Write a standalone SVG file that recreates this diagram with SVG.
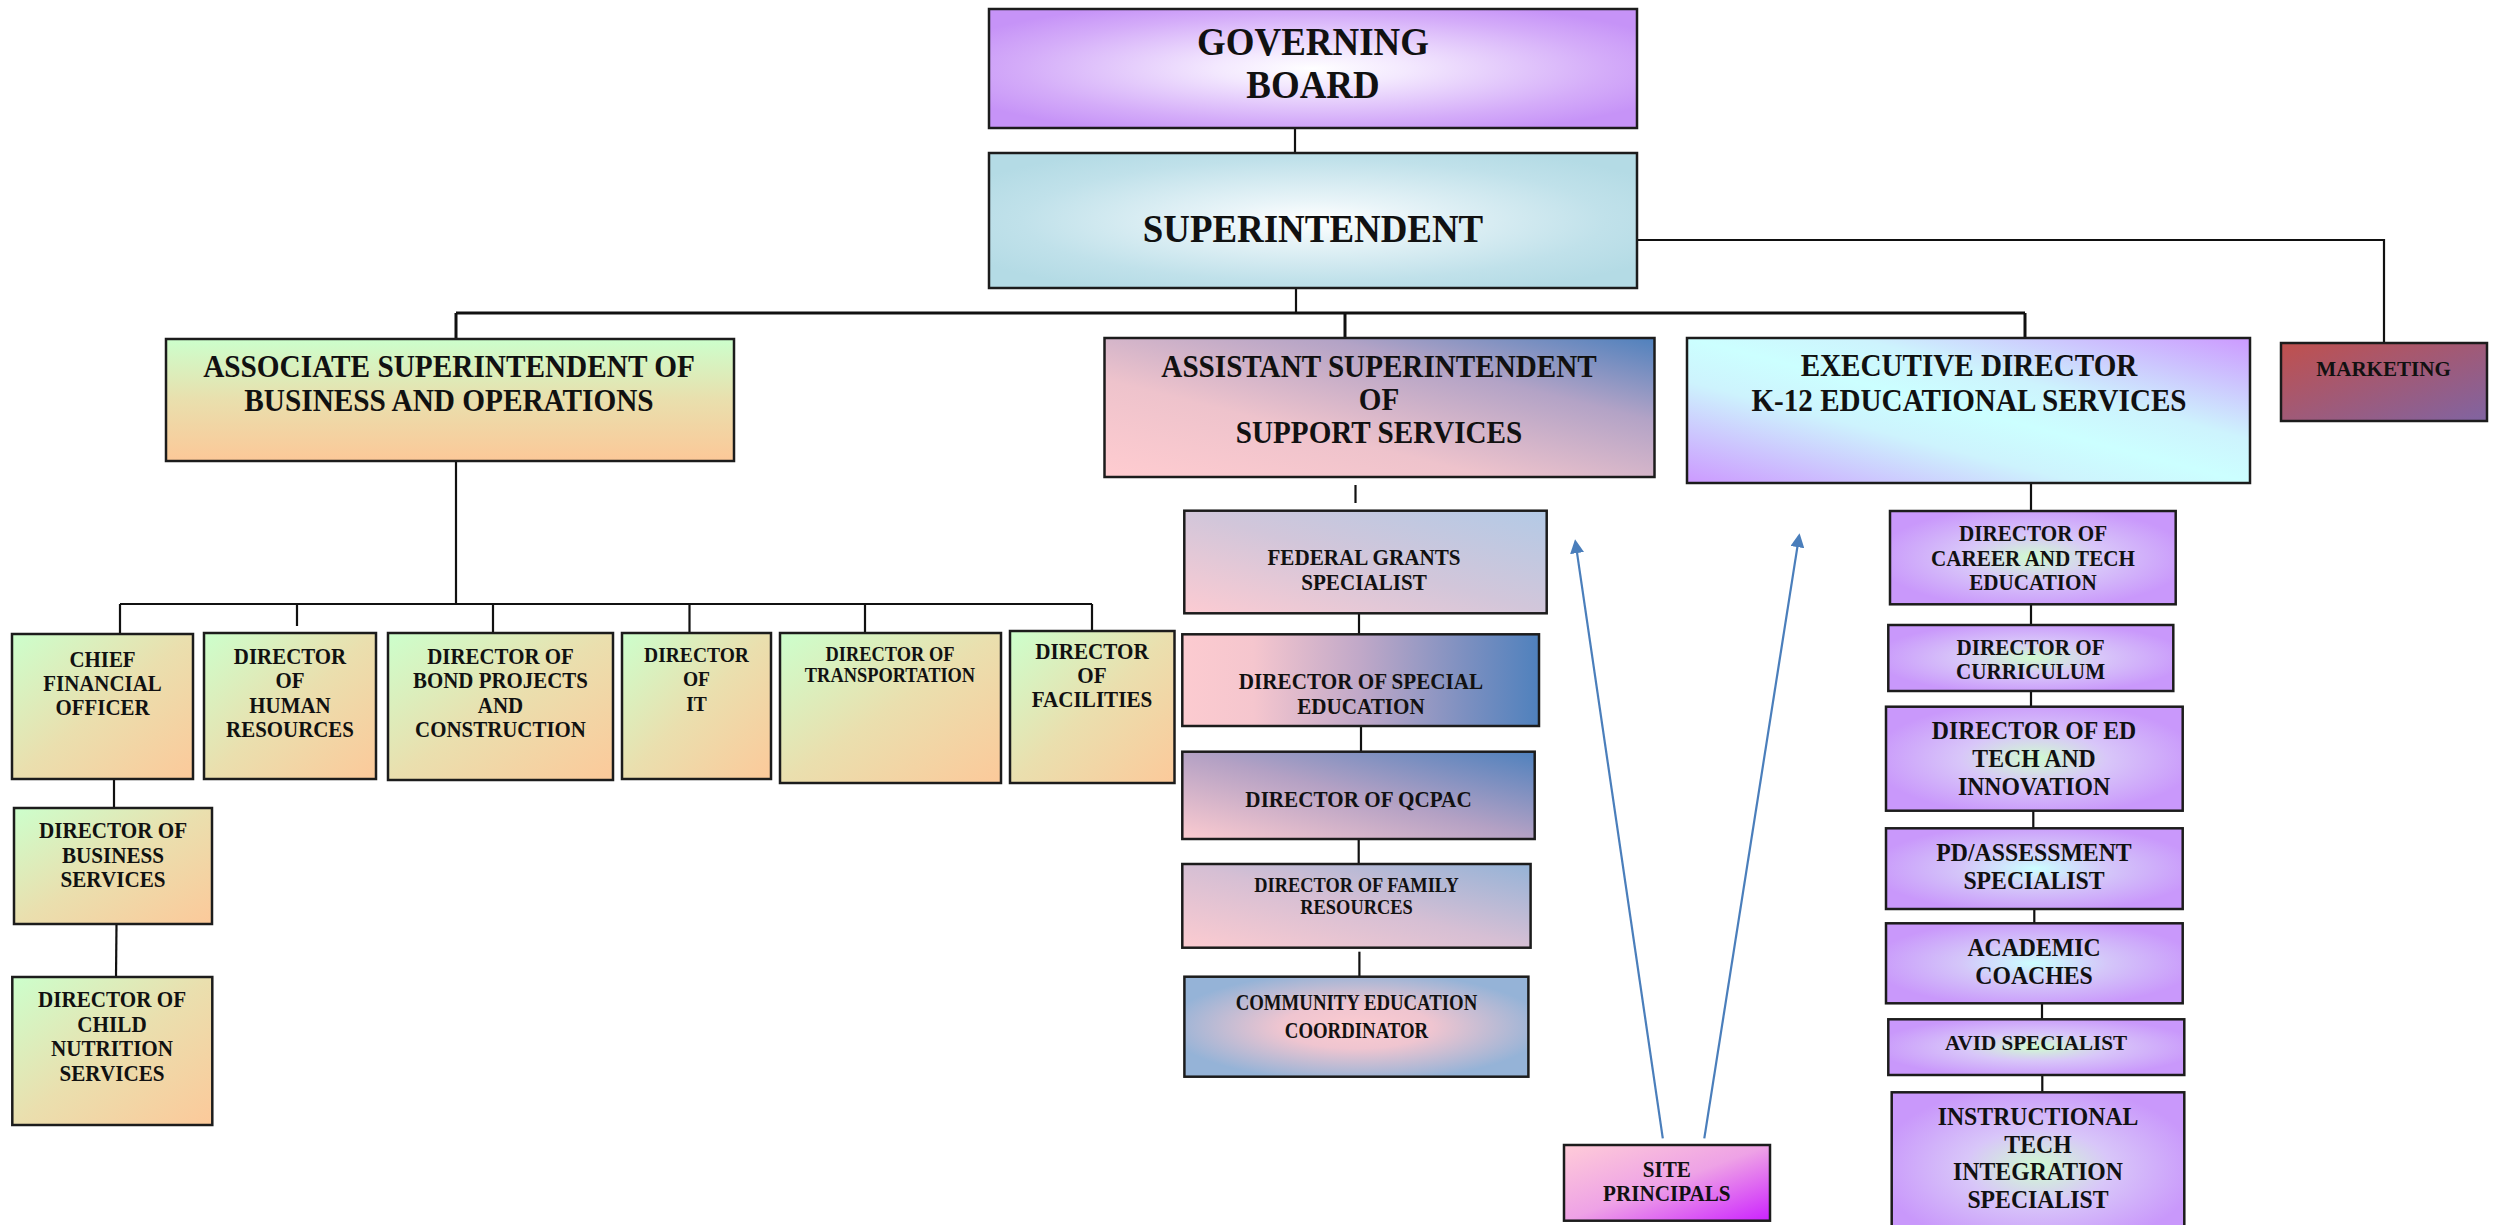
<svg xmlns="http://www.w3.org/2000/svg" width="2502" height="1225" viewBox="0 0 2502 1225">
<style>
.box{stroke:#1c1c1c;stroke-width:2.5}
.t{font-family:"Liberation Serif","Times New Roman",serif;font-weight:bold;text-anchor:middle;fill:#111}
.ln{stroke:#111;stroke-width:2.2;fill:none}
.bus{stroke:#111;stroke-width:3;fill:none}
.arr{stroke:#4a7ebb;stroke-width:2.2;fill:none;marker-end:url(#ah)}
</style>
<defs>
<marker id="ah" viewBox="0 0 14 14" refX="6" refY="7" markerWidth="14" markerHeight="14" markerUnits="userSpaceOnUse" orient="auto"><path d="M0,0 L14,7 L0,14 z" fill="#4a7ebb"/></marker>
<radialGradient id="gGov" cx="0.5" cy="0.5" r="0.6"><stop offset="0" stop-color="#ffffff"/><stop offset="0.25" stop-color="#f3e8fe"/><stop offset="0.75" stop-color="#d4acf9"/><stop offset="1" stop-color="#c693f7"/></radialGradient>
<radialGradient id="gSup" cx="0.5" cy="0.5" r="0.6"><stop offset="0" stop-color="#ffffff"/><stop offset="0.25" stop-color="#e8f4f8"/><stop offset="0.75" stop-color="#c0e1ea"/><stop offset="1" stop-color="#b4dbe5"/></radialGradient>
<linearGradient id="gGreenV" x1="0" y1="0" x2="0" y2="1"><stop offset="0" stop-color="#ccffcc"/><stop offset="0.5" stop-color="#e9dfad"/><stop offset="1" stop-color="#fcc898"/></linearGradient>
<linearGradient id="gGreenD" x1="0" y1="0" x2="1" y2="1"><stop offset="0" stop-color="#ccffcc"/><stop offset="0.5" stop-color="#eadfae"/><stop offset="1" stop-color="#fcc99a"/></linearGradient>
<linearGradient id="gAsst" x1="0" y1="1" x2="1" y2="0"><stop offset="0" stop-color="#ffccd0"/><stop offset="0.35" stop-color="#eec3cc"/><stop offset="0.7" stop-color="#b3a3c6"/><stop offset="1" stop-color="#4f81bd"/></linearGradient>
<linearGradient id="gFed" x1="0" y1="1" x2="1" y2="0"><stop offset="0" stop-color="#fccbd2"/><stop offset="0.5" stop-color="#d2c6da"/><stop offset="1" stop-color="#b3cae6"/></linearGradient>
<linearGradient id="gSpec" x1="0" y1="0" x2="1" y2="0"><stop offset="0" stop-color="#fccbd0"/><stop offset="0.2" stop-color="#f5c6ce"/><stop offset="0.5" stop-color="#c0a8c8"/><stop offset="0.8" stop-color="#7b8fc0"/><stop offset="1" stop-color="#4f81bd"/></linearGradient>
<linearGradient id="gQ" x1="0" y1="1" x2="1" y2="0"><stop offset="0" stop-color="#fccbd0"/><stop offset="0.5" stop-color="#b4a1c4"/><stop offset="1" stop-color="#4f81bd"/></linearGradient>
<linearGradient id="gFam" x1="0" y1="1" x2="1" y2="0"><stop offset="0" stop-color="#fccbd0"/><stop offset="0.5" stop-color="#d6bfd4"/><stop offset="1" stop-color="#95b3d7"/></linearGradient>
<radialGradient id="gCom" cx="0.5" cy="0.5" r="0.55"><stop offset="0" stop-color="#fccbd0"/><stop offset="0.4" stop-color="#efc5d0"/><stop offset="1" stop-color="#95b3d7"/></radialGradient>
<linearGradient id="gExec" x1="0" y1="1" x2="1" y2="0"><stop offset="0" stop-color="#cc99ff"/><stop offset="0.35" stop-color="#cdf3fd"/><stop offset="0.5" stop-color="#ccffff"/><stop offset="0.65" stop-color="#cdf3fd"/><stop offset="1" stop-color="#cc99ff"/></linearGradient>
<linearGradient id="gMkt" x1="0" y1="0" x2="1" y2="1"><stop offset="0" stop-color="#c0504d"/><stop offset="1" stop-color="#8064a2"/></linearGradient>
<linearGradient id="gSite" x1="0" y1="0" x2="1" y2="1"><stop offset="0" stop-color="#ffccd8"/><stop offset="0.5" stop-color="#eea2e6"/><stop offset="1" stop-color="#cc22ff"/></linearGradient>
<radialGradient id="gK" cx="0.5" cy="0.5" r="0.55"><stop offset="0" stop-color="#d0fcd0"/><stop offset="0.45" stop-color="#d8c6f9"/><stop offset="1" stop-color="#c998fb"/></radialGradient>
<radialGradient id="gKc" cx="0.5" cy="0.5" r="0.55"><stop offset="0" stop-color="#ccffff"/><stop offset="0.45" stop-color="#d4c6f9"/><stop offset="1" stop-color="#c998fb"/></radialGradient>
</defs>
<rect width="2502" height="1225" fill="#ffffff"/>

<g id="connectors">
<path class="ln" d="M1295,128 V153"/>
<path class="ln" d="M1296,288 V313"/>
<path class="bus" d="M456,313 H2025"/>
<path class="bus" d="M456,313 V339 M1345,313 V338 M2025,313 V338"/>
<path class="ln" d="M1637,240 H2384 V343"/>
<path class="ln" d="M456,461 V604"/>
<path class="ln" d="M120,604 H1092"/>
<path class="ln" d="M120,604 V634 M297,604 V626 M493,604 V633 M689.5,604 V633 M865,604 V633 M1092,604 V631"/>
<path class="ln" d="M114,779 V808"/>
<path class="ln" d="M116.5,924 L116,977"/>
<path class="ln" d="M1355.5,485 V503"/>
<path class="ln" d="M1359,614 V635"/>
<path class="ln" d="M1361,726 V752"/>
<path class="ln" d="M1358.7,839 V864"/>
<path class="ln" d="M1359.4,951.7 V977"/>
<path class="ln" d="M2031,483 V511 M2031,604 V625 M2031,691 V707"/>
<path class="ln" d="M2033.3,811 V828 M2034.3,909 V923 M2042,1003 V1019 M2042.3,1075 V1092"/>
<path class="arr" d="M1662.8,1138.3 L1576.2,547.2"/>
<path class="arr" d="M1704.3,1138.3 L1798.3,541.2"/>
</g>

<g id="governing-board">
<rect class="box" x="989" y="9" width="648" height="119" fill="url(#gGov)"/>
<text class="t" font-size="40" transform="matrix(0.923 0 0 1 1313 0)"><tspan x="0" y="55">GOVERNING</tspan><tspan x="0" y="98">BOARD</tspan></text>
</g>
<g id="superintendent">
<rect class="box" x="989" y="153" width="648" height="135" fill="url(#gSup)"/>
<text class="t" font-size="40" transform="matrix(0.923 0 0 1 1313 0)"><tspan x="0" y="242.5">SUPERINTENDENT</tspan></text>
</g>
<g id="assoc-supt">
<rect class="box" x="166" y="339" width="568" height="122" fill="url(#gGreenV)"/>
<text class="t" font-size="32" transform="matrix(0.915 0 0 1 449 0)"><tspan x="0" y="377">ASSOCIATE SUPERINTENDENT OF</tspan><tspan x="0" y="411">BUSINESS AND OPERATIONS</tspan></text>
</g>
<g id="assistant-supt">
<rect class="box" x="1104.5" y="338" width="550" height="139" fill="url(#gAsst)"/>
<text class="t" font-size="31" transform="matrix(0.94 0 0 1 1379 0)"><tspan x="0" y="376.7">ASSISTANT SUPERINTENDENT</tspan><tspan x="0" y="410">OF</tspan><tspan x="0" y="442.7">SUPPORT SERVICES</tspan></text>
</g>
<g id="exec-director">
<rect class="box" x="1687" y="338" width="563" height="145" fill="url(#gExec)"/>
<text class="t" font-size="32" transform="matrix(0.91 0 0 1 1969 0)"><tspan x="0" y="376">EXECUTIVE DIRECTOR</tspan><tspan x="0" y="411">K-12 EDUCATIONAL SERVICES</tspan></text>
</g>
<g id="marketing">
<rect class="box" x="2281" y="343" width="206" height="78" fill="url(#gMkt)"/>
<text class="t" font-size="21.5" transform="matrix(0.98 0 0 1 2383.6 0)"><tspan x="0" y="376">MARKETING</tspan></text>
</g>

<g id="cfo">
<rect class="box" x="12" y="634" width="181" height="145" fill="url(#gGreenD)"/>
<text class="t" font-size="22.5" transform="matrix(0.93 0 0 1 102.5 0)"><tspan x="0" y="666.7">CHIEF</tspan><tspan x="0" y="690.7">FINANCIAL</tspan><tspan x="0" y="715">OFFICER</tspan></text>
</g>
<g id="dir-hr">
<rect class="box" x="204" y="633" width="172" height="146" fill="url(#gGreenD)"/>
<text class="t" font-size="22.5" transform="matrix(0.93 0 0 1 290 0)"><tspan x="0" y="664">DIRECTOR</tspan><tspan x="0" y="688">OF</tspan><tspan x="0" y="712.7">HUMAN</tspan><tspan x="0" y="737.3">RESOURCES</tspan></text>
</g>
<g id="dir-bond">
<rect class="box" x="388" y="633" width="225" height="147" fill="url(#gGreenD)"/>
<text class="t" font-size="22.5" transform="matrix(0.93 0 0 1 500.5 0)"><tspan x="0" y="664">DIRECTOR OF</tspan><tspan x="0" y="688">BOND PROJECTS</tspan><tspan x="0" y="712.7">AND</tspan><tspan x="0" y="737.3">CONSTRUCTION</tspan></text>
</g>
<g id="dir-it">
<rect class="box" x="622" y="633" width="149" height="146" fill="url(#gGreenD)"/>
<text class="t" font-size="21" transform="matrix(0.93 0 0 1 696.5 0)"><tspan x="0" y="661.7">DIRECTOR</tspan><tspan x="0" y="686">OF</tspan><tspan x="0" y="710.7">IT</tspan></text>
</g>
<g id="dir-transport">
<rect class="box" x="780" y="633" width="221" height="150" fill="url(#gGreenD)"/>
<text class="t" font-size="20" transform="matrix(0.92 0 0 1 890 0)"><tspan x="0" y="660.7">DIRECTOR OF</tspan><tspan x="0" y="682.3">TRANSPORTATION</tspan></text>
</g>
<g id="dir-facilities">
<rect class="box" x="1010" y="631" width="164.5" height="152" fill="url(#gGreenD)"/>
<text class="t" font-size="23" transform="matrix(0.92 0 0 1 1092 0)"><tspan x="0" y="659.3">DIRECTOR</tspan><tspan x="0" y="683.3">OF</tspan><tspan x="0" y="706.7">FACILITIES</tspan></text>
</g>
<g id="dir-business">
<rect class="box" x="14" y="808" width="198" height="116" fill="url(#gGreenD)"/>
<text class="t" font-size="23" transform="matrix(0.92 0 0 1 113 0)"><tspan x="0" y="838.3">DIRECTOR OF</tspan><tspan x="0" y="863.3">BUSINESS</tspan><tspan x="0" y="887.3">SERVICES</tspan></text>
</g>
<g id="dir-child-nutrition">
<rect class="box" x="12.3" y="977" width="200" height="148" fill="url(#gGreenD)"/>
<text class="t" font-size="23" transform="matrix(0.92 0 0 1 112 0)"><tspan x="0" y="1006.7">DIRECTOR OF</tspan><tspan x="0" y="1031.7">CHILD</tspan><tspan x="0" y="1056">NUTRITION</tspan><tspan x="0" y="1081">SERVICES</tspan></text>
</g>

<g id="federal-grants">
<rect class="box" x="1184.3" y="510.7" width="362.4" height="102.6" fill="url(#gFed)"/>
<text class="t" font-size="23" transform="matrix(0.92 0 0 1 1364 0)"><tspan x="0" y="565">FEDERAL GRANTS</tspan><tspan x="0" y="590">SPECIALIST</tspan></text>
</g>
<g id="dir-special-ed">
<rect class="box" x="1182.3" y="634.3" width="356.7" height="91.7" fill="url(#gSpec)"/>
<text class="t" font-size="23" transform="matrix(0.92 0 0 1 1361 0)"><tspan x="0" y="689">DIRECTOR OF SPECIAL</tspan><tspan x="0" y="714">EDUCATION</tspan></text>
</g>
<g id="dir-qcpac">
<rect class="box" x="1182.3" y="751.7" width="352.4" height="87.3" fill="url(#gQ)"/>
<text class="t" font-size="23" transform="matrix(0.92 0 0 1 1358.5 0)"><tspan x="0" y="807.3">DIRECTOR OF QCPAC</tspan></text>
</g>
<g id="dir-family">
<rect class="box" x="1182.3" y="864" width="348.3" height="83.7" fill="url(#gFam)"/>
<text class="t" font-size="20" transform="matrix(0.92 0 0 1 1356.5 0)"><tspan x="0" y="892.3">DIRECTOR OF FAMILY</tspan><tspan x="0" y="914">RESOURCES</tspan></text>
</g>
<g id="community-ed">
<rect class="box" x="1184.4" y="976.7" width="344" height="100" fill="url(#gCom)"/>
<text class="t" font-size="23.5" transform="matrix(0.8 0 0 1 1356.5 0)"><tspan x="0" y="1010">COMMUNITY EDUCATION</tspan><tspan x="0" y="1038.3">COORDINATOR</tspan></text>
</g>
<g id="site-principals">
<rect class="box" x="1564" y="1145" width="206" height="75.7" fill="url(#gSite)"/>
<text class="t" font-size="23" transform="matrix(0.92 0 0 1 1666.8 0)"><tspan x="0" y="1176.7">SITE</tspan><tspan x="0" y="1201">PRINCIPALS</tspan></text>
</g>

<g id="dir-career-tech">
<rect class="box" x="1890" y="511" width="285.7" height="93.3" fill="url(#gK)"/>
<text class="t" font-size="23" transform="matrix(0.92 0 0 1 2033 0)"><tspan x="0" y="541">DIRECTOR OF</tspan><tspan x="0" y="566">CAREER AND TECH</tspan><tspan x="0" y="590">EDUCATION</tspan></text>
</g>
<g id="dir-curriculum">
<rect class="box" x="1888.3" y="625" width="285" height="66" fill="url(#gK)"/>
<text class="t" font-size="23" transform="matrix(0.92 0 0 1 2030.5 0)"><tspan x="0" y="655">DIRECTOR OF</tspan><tspan x="0" y="679.3">CURRICULUM</tspan></text>
</g>
<g id="dir-ed-tech">
<rect class="box" x="1886" y="706.7" width="296.7" height="104" fill="url(#gK)"/>
<text class="t" font-size="25" transform="matrix(0.95 0 0 1 2034 0)"><tspan x="0" y="739">DIRECTOR OF ED</tspan><tspan x="0" y="767.3">TECH AND</tspan><tspan x="0" y="795">INNOVATION</tspan></text>
</g>
<g id="pd-assessment">
<rect class="box" x="1886" y="828.3" width="296.7" height="80.7" fill="url(#gKc)"/>
<text class="t" font-size="25" transform="matrix(0.95 0 0 1 2034 0)"><tspan x="0" y="861">PD/ASSESSMENT</tspan><tspan x="0" y="889.3">SPECIALIST</tspan></text>
</g>
<g id="academic-coaches">
<rect class="box" x="1886" y="923.3" width="296.7" height="80" fill="url(#gKc)"/>
<text class="t" font-size="25" transform="matrix(0.95 0 0 1 2034 0)"><tspan x="0" y="956">ACADEMIC</tspan><tspan x="0" y="984">COACHES</tspan></text>
</g>
<g id="avid-specialist">
<rect class="box" x="1888.3" y="1019.3" width="296" height="55.7" fill="url(#gK)"/>
<text class="t" font-size="22" transform="matrix(0.96 0 0 1 2036 0)"><tspan x="0" y="1050">AVID SPECIALIST</tspan></text>
</g>
<g id="instructional-tech">
<rect class="box" x="1891.7" y="1092.3" width="292.6" height="150" fill="url(#gK)"/>
<text class="t" font-size="25" transform="matrix(0.95 0 0 1 2038 0)"><tspan x="0" y="1125">INSTRUCTIONAL</tspan><tspan x="0" y="1152.7">TECH</tspan><tspan x="0" y="1180">INTEGRATION</tspan><tspan x="0" y="1208.3">SPECIALIST</tspan></text>
</g>
</svg>
